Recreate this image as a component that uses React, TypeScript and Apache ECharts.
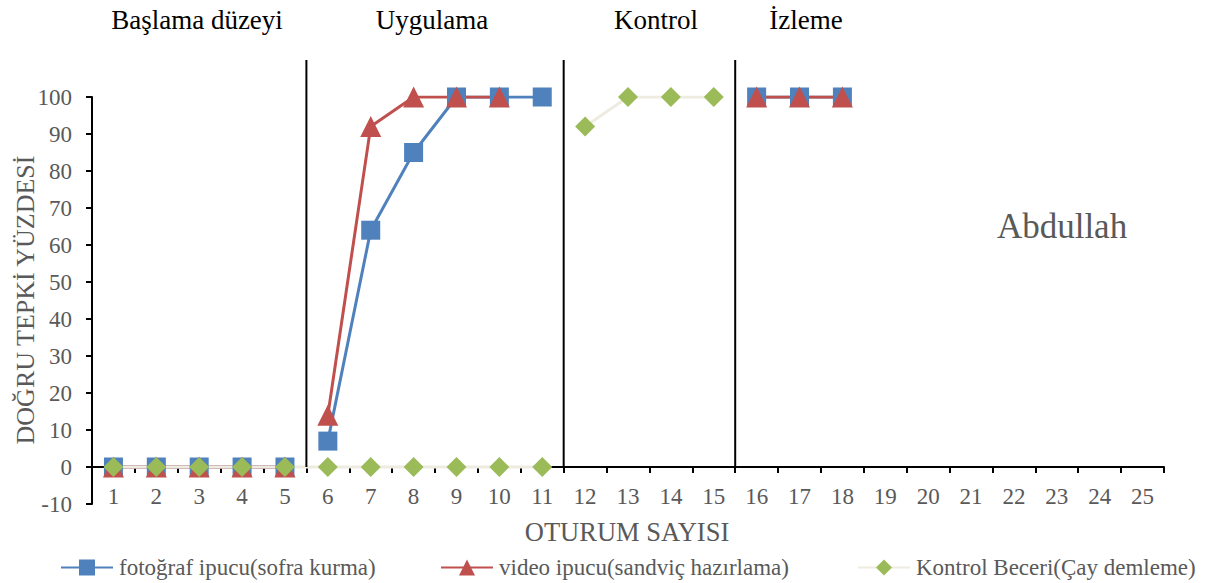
import React, { useEffect, useRef } from "react";
import * as echarts from "echarts";

const sessions = ["1","2","3","4","5","6","7","8","9","10","11","12","13","14","15","16","17","18","19","20","21","22","23","24","25"];

const fotoName = "fotoğraf ipucu(sofra kurma)";
const videoName = "video ipucu(sandviç hazırlama)";
const kontrolName = "Kontrol Beceri(Çay demleme)";

const fotoValues = [0,0,0,0,0,7,64,85,100,100,100,null,null,null,null,100,100,100,null,null,null,null,null,null,null];
const videoValues = [0,0,0,0,0,14,92,100,100,100,null,null,null,null,null,100,100,100,null,null,null,null,null,null,null];
const kontrolValues = [0,0,0,0,0,0,0,0,0,0,0,92,100,100,100,null,null,null,null,null,null,null,null,null,null];

// last session of each phase (line breaks)
const treatmentBreaks = [5, 11, 15];
const kontrolBreaks = [11];
const phaseLineAfter = [5, 11, 15];

const phaseLabels = ["Başlama düzeyi", "Uygulama", "Kontrol", "İzleme"];
const phaseLabelX = [197, 432, 656, 806];

const FONT = "Liberation Serif";
const GRAY = "#595959";

function segments(values: (number | null)[], breaks: number[]) {
  const bounds = [0, ...breaks, values.length];
  const out: (number | null)[][] = [];
  for (let b = 0; b < bounds.length - 1; b++) {
    const s = bounds[b], e = bounds[b + 1];
    out.push(values.map((v, i) => (i >= s && i < e ? v : null)));
  }
  return out;
}

export default function App() {
  const ref = useRef<HTMLDivElement>(null);
  useEffect(() => {
    if (!ref.current) return;
    const chart = echarts.init(ref.current, undefined, { renderer: "svg" });

    const mk = (name: string, data: (number | null)[], color: string, lineColor: string, symbol: string, size: number) => ({
      type: "line",
      name,
      data,
      symbol,
      symbolSize: size,
      showAllSymbol: true,
      connectNulls: false,
      itemStyle: { color },
      lineStyle: { color: lineColor, width: 3 },
      emphasis: { disabled: true },
    });

    const series: any[] = [];
    segments(fotoValues, treatmentBreaks).forEach((d) => series.push(mk(fotoName, d, "#4F81BD", "#4F81BD", "rect", 19)));
    segments(videoValues, treatmentBreaks).forEach((d) => series.push(mk(videoName, d, "#C0504D", "#C0504D", "triangle", 21)));
    segments(kontrolValues, kontrolBreaks).forEach((d) => series.push(mk(kontrolName, d, "#9BBB59", "#EEECE1", "diamond", 20)));

    const legendBase = {
      orient: "horizontal",
      top: 556,
      padding: 0,
      itemWidth: 52,
      itemHeight: 20,
      textStyle: { fontFamily: FONT, fontSize: 23, color: GRAY, padding: [0, 0, 0, 1] },
      selectedMode: false,
    };

    chart.setOption({
      animation: false,
      textStyle: { fontFamily: FONT },
      grid: { left: 92, right: 47, top: 97, bottom: 79, containLabel: false },
      legend: [
        { ...legendBase, left: 60, data: [fotoName] },
        { ...legendBase, left: 440, data: [videoName] },
        { ...legendBase, left: 857, data: [kontrolName] },
      ],
      xAxis: {
        type: "category",
        data: sessions,
        boundaryGap: true,
        position: "bottom",
        offset: -37,
        axisLine: { onZero: false, lineStyle: { color: "#000", width: 2 } },
        axisTick: { show: true, length: 6, lineStyle: { color: "#000", width: 2 } },
        axisLabel: { fontFamily: FONT, fontSize: 23, color: GRAY, margin: 18 },
        splitLine: { show: false },
      },
      yAxis: {
        type: "value",
        min: -10,
        max: 100,
        interval: 10,
        axisLine: { show: true, lineStyle: { color: "#000", width: 2 } },
        axisTick: { show: true, length: 6, lineStyle: { color: "#000", width: 2 } },
        axisLabel: { fontFamily: FONT, fontSize: 23, color: GRAY, margin: 20 },
        splitLine: { show: false },
      },
      series,
    });

    const px = (v: string) => chart.convertToPixel({ xAxisIndex: 0 }, v) as number;
    const py = (v: number) => chart.convertToPixel({ yAxisIndex: 0 }, v) as number;
    const top = py(110);
    const bottom = py(0);

    const graphics: any[] = [];
    phaseLineAfter.forEach((n) => {
      const x = (px(sessions[n - 1]) + px(sessions[n])) / 2;
      graphics.push({
        type: "line",
        shape: { x1: x, y1: top, x2: x, y2: bottom },
        style: { stroke: "#000", lineWidth: 2 },
        z: 10,
      });
    });
    phaseLabels.forEach((t, i) => {
      graphics.push({
        type: "text",
        x: phaseLabelX[i],
        y: 20,
        style: { text: t, fontFamily: FONT, fontSize: 27, fill: "#000", align: "center", verticalAlign: "middle" },
      });
    });
    graphics.push({
      type: "text",
      x: 1062,
      y: 226,
      style: { text: "Abdullah", fontFamily: FONT, fontSize: 35, fill: GRAY, align: "center", verticalAlign: "middle" },
    });
    graphics.push({
      type: "text",
      x: 627,
      y: 532,
      style: { text: "OTURUM SAYISI", fontFamily: FONT, fontSize: 26.5, fill: GRAY, align: "center", verticalAlign: "middle" },
    });
    graphics.push({
      type: "text",
      x: 25,
      y: 300,
      rotation: Math.PI / 2,
      style: { text: "DOĞRU TEPKİ YÜZDESİ", fontFamily: FONT, fontSize: 26, fill: GRAY, align: "center", verticalAlign: "middle" },
    });
    chart.setOption({ graphic: graphics });

    return () => chart.dispose();
  }, []);

  return <div ref={ref} style={{ width: 1211, height: 583, position: "absolute", left: 0, top: 0 }} />;
}
